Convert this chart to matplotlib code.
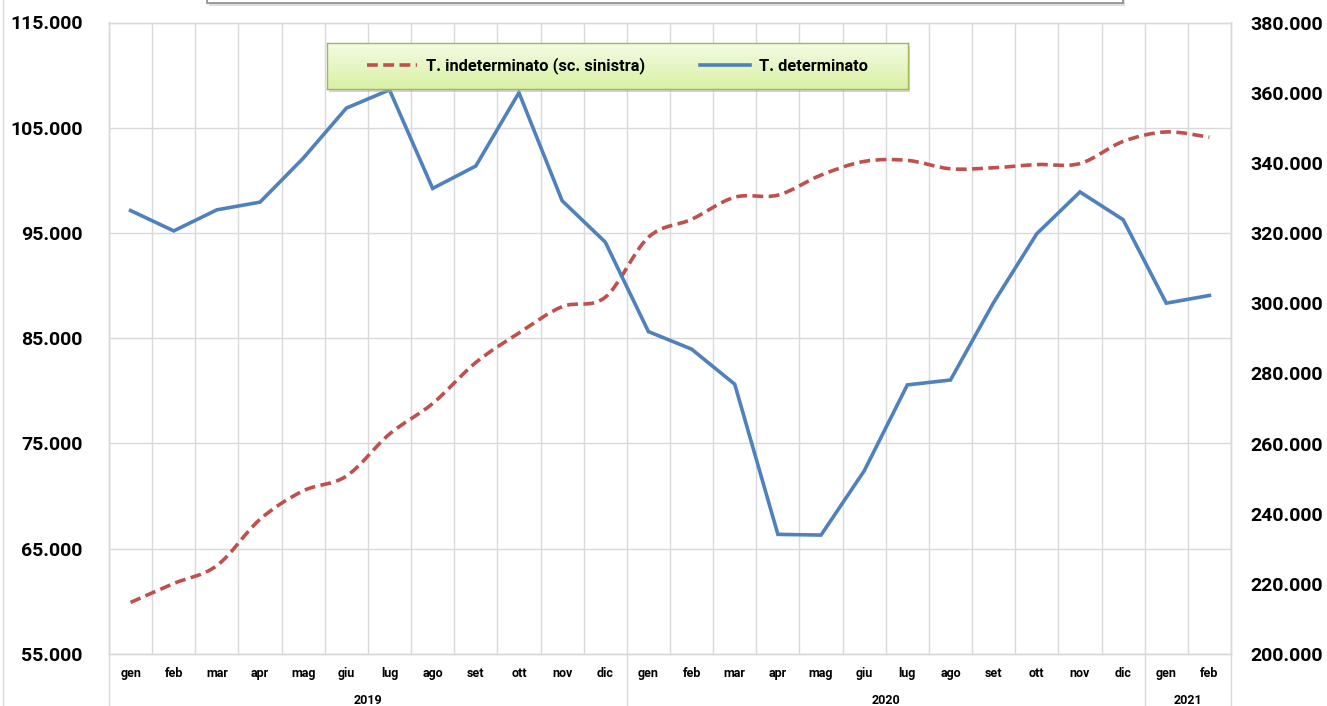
import numpy as np
import matplotlib
matplotlib.use("Agg")
import matplotlib.pyplot as plt
from matplotlib.path import Path
from matplotlib.patches import PathPatch, Rectangle
from matplotlib.lines import Line2D
from matplotlib.ticker import FuncFormatter, FixedLocator

plt.rcParams['font.family'] = ['Roboto', 'DejaVu Sans']
plt.rcParams['font.weight'] = 'bold'

# ---------------- data ----------------
months = ['gen', 'feb', 'mar', 'apr', 'mag', 'giu', 'lug', 'ago', 'set', 'ott', 'nov', 'dic',
          'gen', 'feb', 'mar', 'apr', 'mag', 'giu', 'lug', 'ago', 'set', 'ott', 'nov', 'dic',
          'gen', 'feb']
years = ['2019', '2020', '2021']
year_counts = [12, 12, 2]

indeterminato = [59900, 61700, 63400, 67800, 70500, 71900, 75900, 78800, 82700, 85500,
                 88000, 88900, 94600, 96300, 98400, 98600, 100500, 101800, 101900, 101100,
                 101200, 101500, 101600, 103700, 104600, 104100]
determinato = [326400, 320600, 326600, 328800, 341300, 355600, 360800, 332700, 339100, 360000,
               329200, 317400, 291900, 286900, 276900, 234100, 233900, 252200, 276700, 278100,
               300200, 319800, 331700, 323800, 300000, 302200]

label_ind = 'T. indeterminato (sc. sinistra)'
label_det = 'T. determinato'

left_ticks = list(range(55000, 115001, 10000))
right_ticks = list(range(200000, 380001, 20000))

RED = '#c0504d'
BLUE = '#4f81bd'
GRID = '#d9d9d9'

W, H = 1327, 706
fig = plt.figure(figsize=(W / 100, H / 100), dpi=100)
L, R, B, T = 109 / W, 1231 / W, 1 - 654 / H, 1 - 22.5 / H
ax = fig.add_axes([L, B, R - L, T - B])
ax2 = ax.twinx()

n = len(months)
x = np.arange(n)

# smoothed (Excel-like) red curve through the data points
P = np.column_stack([x, indeterminato]).astype(float)
verts = [P[0]]
codes = [Path.MOVETO]
for i in range(n - 1):
    p0 = P[max(i - 1, 0)]
    p1 = P[i]
    p2 = P[i + 1]
    p3 = P[min(i + 2, n - 1)]
    c1 = p1 + (p2 - p0) / 6.0
    c2 = p2 - (p3 - p1) / 6.0
    verts += [c1, c2, p2]
    codes += [Path.CURVE4] * 3
red_patch = PathPatch(Path(verts, codes), fill=False, edgecolor=RED, lw=2.6,
                      linestyle=(0, (3.0, 1.5)), capstyle='butt', zorder=3)
ax.add_patch(red_patch)

ax2.plot(x, determinato, color=BLUE, lw=2.6, solid_joinstyle='miter', zorder=4)

# axes limits & ticks
ax.set_xlim(-0.5, n - 0.5)
ax.set_ylim(left_ticks[0], left_ticks[-1])
ax2.set_ylim(right_ticks[0], right_ticks[-1])

fmt = FuncFormatter(lambda v, p: f"{v:,.0f}".replace(',', '.'))
ax.set_yticks(left_ticks)
ax.yaxis.set_major_formatter(fmt)
ax2.set_yticks(right_ticks)
ax2.yaxis.set_major_formatter(fmt)

ax.set_xticks(x)
ax.set_xticklabels(months)
ax.xaxis.set_minor_locator(FixedLocator(np.arange(-0.5, n, 1.0)))

ax.tick_params(axis='x', which='both', length=0, pad=9.5, labelsize=9)
ax.tick_params(axis='y', length=0, pad=19, labelsize=14)
ax2.tick_params(axis='y', length=0, pad=14, labelsize=14)
for t in ax.get_yticklabels() + ax2.get_yticklabels() + ax.get_xticklabels():
    t.set_fontweight('bold')

ax.grid(True, axis='y', which='major', color=GRID, lw=1.0)
ax.grid(True, axis='x', which='minor', color=GRID, lw=1.0)
ax.grid(False, axis='x', which='major')
ax.set_axisbelow(True)
for a in (ax, ax2):
    for s in a.spines.values():
        s.set_color(GRID)
        s.set_linewidth(1.0)

# year group separators and labels below axis
bounds = np.concatenate([[0], np.cumsum(year_counts)]) - 0.5
ybot = -52 / (654 - 22.5)
for b in bounds:
    ax.plot([b, b], [0, ybot], transform=ax.get_xaxis_transform(), color=GRID,
            lw=1.0, clip_on=False)
for yr, a0, a1 in zip(years, bounds[:-1], bounds[1:]):
    ax.annotate(yr, xy=((a0 + a1) / 2, 0), xycoords=('data', 'axes fraction'),
                xytext=(0, -33.5), textcoords='offset points', ha='center', va='center',
                fontsize=9, fontweight='bold')

# left frame line of the chart area
fig.add_artist(Line2D([2.5 / W, 2.5 / W], [0, 1], transform=fig.transFigure, color=GRID, lw=1.0))

# cut-off title box at top
fig.add_artist(Rectangle((209 / W, 1 - 6 / H), (1123 - 207) / W, 20 / H, transform=fig.transFigure,
                         facecolor='#c8c8c8', edgecolor='none', alpha=0.6, zorder=1))
fig.add_artist(Rectangle((207 / W, 1 - 3 / H), (1123 - 207) / W, 20 / H, transform=fig.transFigure,
                         facecolor='white', edgecolor='#8c8c8c', lw=1.2, zorder=2))

# legend with gradient box and shadow
lx0, lx1, ly0, ly1 = 327, 908, 43, 89
fig.add_artist(Rectangle(((lx0 + 2) / W, 1 - (ly1 + 3) / H), (lx1 - lx0) / W, (ly1 - ly0) / H,
                         transform=fig.transFigure, facecolor='#b0b0b0', edgecolor='none',
                         alpha=0.55, zorder=5))
lax = fig.add_axes([lx0 / W, 1 - ly1 / H, (lx1 - lx0) / W, (ly1 - ly0) / H], zorder=6)
grad = np.linspace(0, 1, 64)[:, None]
c_top = np.array(matplotlib.colors.to_rgb('#f4fbe4'))
c_bot = np.array(matplotlib.colors.to_rgb('#d9f1a4'))
img = c_top[None, None, :] * (1 - grad[:, :, None]) + c_bot[None, None, :] * grad[:, :, None]
lax.imshow(img, aspect='auto', extent=[0, 1, 0, 1], origin='upper')
lax.set_xticks([])
lax.set_yticks([])
for s in lax.spines.values():
    s.set_color('#9bbb59')
    s.set_linewidth(1.0)
handles = [Line2D([], [], color=RED, lw=2.6, linestyle=(0, (3.0, 1.5))),
           Line2D([], [], color=BLUE, lw=2.6)]
lax.legend(handles, [label_ind, label_det], loc='center', ncol=2, frameon=False,
           handlelength=3.0, handletextpad=0.55, columnspacing=3.4,
           prop={'weight': 'bold', 'size': 11.8})

fig.savefig('out.png', dpi=100)
